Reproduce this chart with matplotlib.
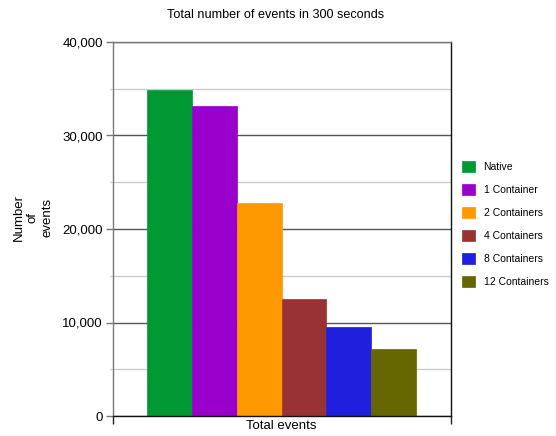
import matplotlib
matplotlib.use("Agg")
import matplotlib.pyplot as plt
from matplotlib.ticker import MultipleLocator, FuncFormatter

plt.rcParams['font.family'] = ['Liberation Sans', 'DejaVu Sans']

series = ["Native", "1 Container", "2 Containers", "4 Containers", "8 Containers", "12 Containers"]
values = [34850, 33200, 22800, 12500, 9550, 7150]
colors = ["#009933", "#9900cc", "#ff9900", "#993333", "#1f1fdd", "#666600"]
category = "Total events"

W, H = 556, 436
fig = plt.figure(figsize=(W / 100, H / 100), dpi=100)
ax = fig.add_axes([112.5 / W, 20 / H, (450.5 - 112.5) / W, (416 - 42) / H])

bw = 0.1324
n = len(series)
for i, (name, v, c) in enumerate(zip(series, values, colors)):
    ax.bar((i - (n - 1) / 2) * bw, v, width=bw, color=c, label=name, zorder=3,
           edgecolor=c, linewidth=0.5)

ax.set_xlim(-0.5, 0.5)
ax.set_ylim(0, 40000)
ax.yaxis.set_major_locator(MultipleLocator(10000))
ax.yaxis.set_minor_locator(MultipleLocator(5000))
ax.yaxis.set_major_formatter(FuncFormatter(lambda v, p: f"{int(v):,}"))
ax.grid(axis='y', which='major', color='#555555', linewidth=1.0, zorder=1)
ax.grid(axis='y', which='minor', color='#cccccc', linewidth=1.0, zorder=1)
ax.tick_params(axis='y', which='major', length=5, width=1, color='#777777',
               labelsize=9.5, pad=2)
ax.tick_params(axis='y', which='minor', length=2.5, width=1, color='#cccccc')

ax.set_xticks([-0.5, 0.5])
ax.set_xticklabels(["", ""])
ax.tick_params(axis='x', length=6, width=1, color='#222222')
ax.text(0.5, -0.012, category, transform=ax.transAxes, ha='center', va='top',
        fontsize=9.5)

ax.spines['left'].set_color('#777777')
ax.spines['top'].set_color('#777777')
ax.spines['bottom'].set_color('#111111')
ax.spines['right'].set_color('#111111')
for s in ax.spines.values():
    s.set_linewidth(1.0)
    s.set_zorder(4)

fig.text(276 / W, 1 - 15 / H, "Total number of events in 300 seconds",
         ha='center', va='center', fontsize=9.1)
fig.text(33 / W, 1 - 217 / H, "Number\nof\nevents", rotation=90,
         ha='center', va='center', fontsize=9.5, linespacing=1.25)

leg = fig.legend(loc='upper left', bbox_to_anchor=(458 / W, 1 - 157 / H),
                 frameon=False, fontsize=7.5, handlelength=1.2, handleheight=1.2,
                 handletextpad=0.85, labelspacing=1.17, borderaxespad=0)

fig.savefig("out.png", dpi=100)
